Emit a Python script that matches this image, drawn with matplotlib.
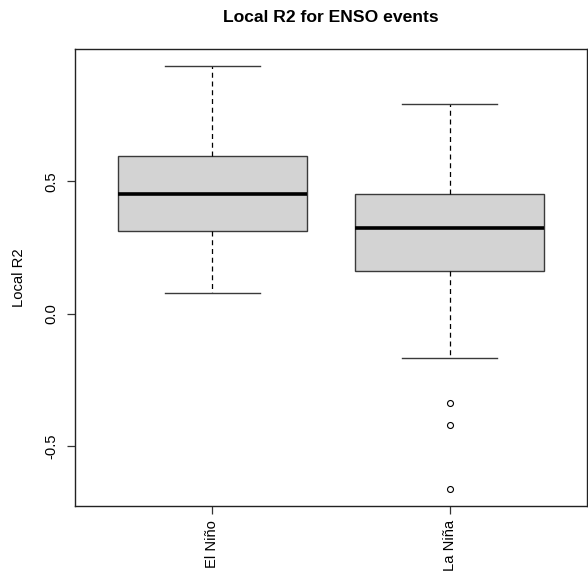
import matplotlib
matplotlib.use("Agg")
import matplotlib.pyplot as plt

categories = ["El Niño", "La Niña"]
whislo = [0.080, -0.167]
q1 = [0.314, 0.163]
med = [0.454, 0.326]
q3 = [0.597, 0.453]
whishi = [0.937, 0.792]
fliers = [[], [-0.338, -0.419, -0.660]]
yticks = [-0.5, 0.0, 0.5]
ytick_labels = ["-0.5", "0.0", "0.5"]

plt.rcParams['font.family'] = ['Liberation Sans', 'DejaVu Sans']

fig = plt.figure(figsize=(5.88, 5.80), dpi=100)
ax = fig.add_axes([75/588, (580-506)/580, 512/588, (506-48.7)/580])

stats = []
for i, c in enumerate(categories):
    stats.append(dict(label=c, whislo=whislo[i], q1=q1[i], med=med[i],
                      q3=q3[i], whishi=whishi[i], fliers=fliers[i]))

ax.bxp(stats, positions=[1, 2], widths=0.8, patch_artist=True,
       boxprops=dict(facecolor='#D3D3D3', edgecolor='#3a3a3a', linewidth=1.0),
       medianprops=dict(color='black', linewidth=2.6, solid_capstyle='butt'),
       whiskerprops=dict(color='black', linewidth=0.9, linestyle=(0, (4, 3))),
       capprops=dict(color='#3a3a3a', linewidth=1.0),
       capwidths=0.4,
       flierprops=dict(marker='o', markersize=4.3, markerfacecolor='none',
                       markeredgecolor='black', markeredgewidth=0.8))

ax.set_xlim(0.42, 2.58)
ax.set_ylim(-0.725, 1.001)
ax.set_xticks([1, 2])
ax.set_xticklabels(categories, rotation=90, fontsize=10.6)
ax.set_yticks(yticks)
ax.set_yticklabels(ytick_labels, rotation=90, va='center', fontsize=10.6)
ax.tick_params(axis='both', direction='out', length=6, width=0.9, color='#333333')
ax.tick_params(axis='y', pad=6)
ax.tick_params(axis='x', pad=4)
for s in ax.spines.values():
    s.set_color('#222222')
    s.set_linewidth(1.0)

ax.set_ylabel("Local R2", fontsize=10.6, labelpad=13)
ax.set_title("Local R2 for ENSO events", fontsize=12.6, fontweight='bold', pad=19)

fig.savefig("out.png", dpi=100)
